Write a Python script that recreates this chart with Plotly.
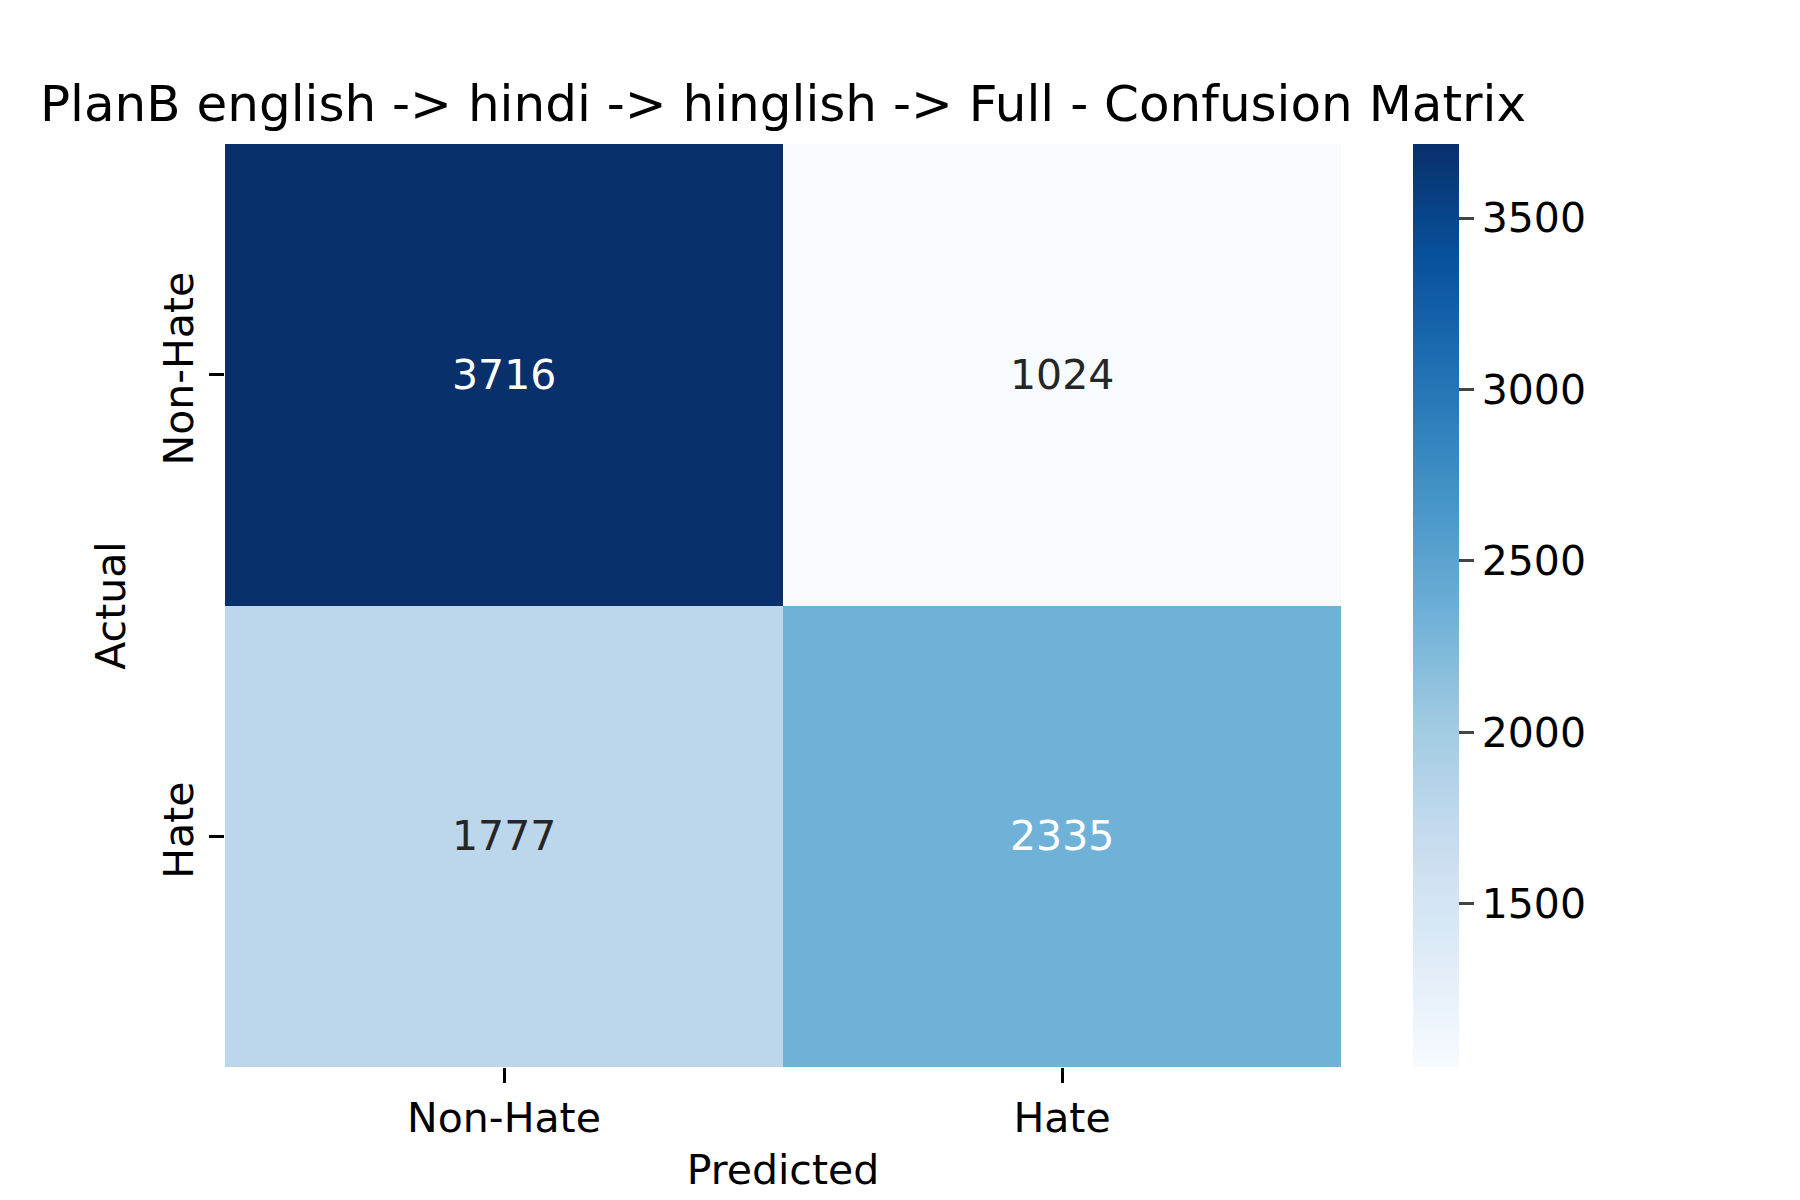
# Confusion matrix heatmap - PlanB english -> hindi -> hinglish -> Full

import plotly.graph_objects as go
import plotly.express as px


# Data
labels = ["Non-Hate", "Hate"]
counts = [[3716, 1024],
          [1777, 2335]]
cbar_ticks = [1500, 2000, 2500, 3000, 3500]

title = "PlanB english -> hindi -> hinglish -> Full - Confusion Matrix"
font = "DejaVu Sans"

zmin = min(min(r) for r in counts)
zmax = max(max(r) for r in counts)

fig = go.Figure(go.Heatmap(
    z=counts, x=labels, y=labels,
    colorscale=px.colors.sequential.Blues,
    zmin=zmin, zmax=zmax,
    xgap=0, ygap=0,
    colorbar=dict(
        x=1.0645, xanchor="left", xpad=0, y=0.5, yanchor="middle", ypad=0,
        len=1, lenmode="fraction", thickness=46,
        outlinewidth=0,
        tickvals=cbar_ticks, ticks="outside", ticklen=15, tickwidth=3,
        tickfont=dict(family=font, size=41, color="black"),
    ),
    hoverinfo="skip",
))

# cell annotations, white text on dark cells like seaborn
for i, row in enumerate(counts):
    for j, v in enumerate(row):
        frac = (v - zmin) / (zmax - zmin)
        fig.add_annotation(x=labels[j], y=labels[i], text=str(v), showarrow=False,
                           font=dict(family=font, size=41,
                                     color="white" if frac > 0.4 else "#262626"))

fig.update_layout(
    width=1800, height=1200,
    margin=dict(l=217, r=467, t=136, b=141),
    paper_bgcolor="white", plot_bgcolor="white",
    title=dict(text=title, x=0.5, xref="paper", xanchor="center",
               y=1 - 95 / 1200, yref="container", yanchor="middle",
               font=dict(family=font, size=50, color="black")),
    font=dict(family=font, color="black"),
)

fig.update_xaxes(showgrid=False, zeroline=False, showline=False,
                 ticks="outside", ticklen=15, tickwidth=3, tickcolor="black",
                 tickfont=dict(family=font, size=41, color="black"),
                 title=dict(text="Predicted", font=dict(family=font, size=41, color="black"),
                            standoff=14))
fig.update_yaxes(showgrid=False, zeroline=False, showline=False, autorange="reversed",
                 ticks="outside", ticklen=15, tickwidth=3, tickcolor="black",
                 tickangle=-90,
                 tickfont=dict(family=font, size=41, color="black"),
                 title=dict(text="Actual", font=dict(family=font, size=41, color="black"),
                            standoff=16))

fig.write_html("out.html")
